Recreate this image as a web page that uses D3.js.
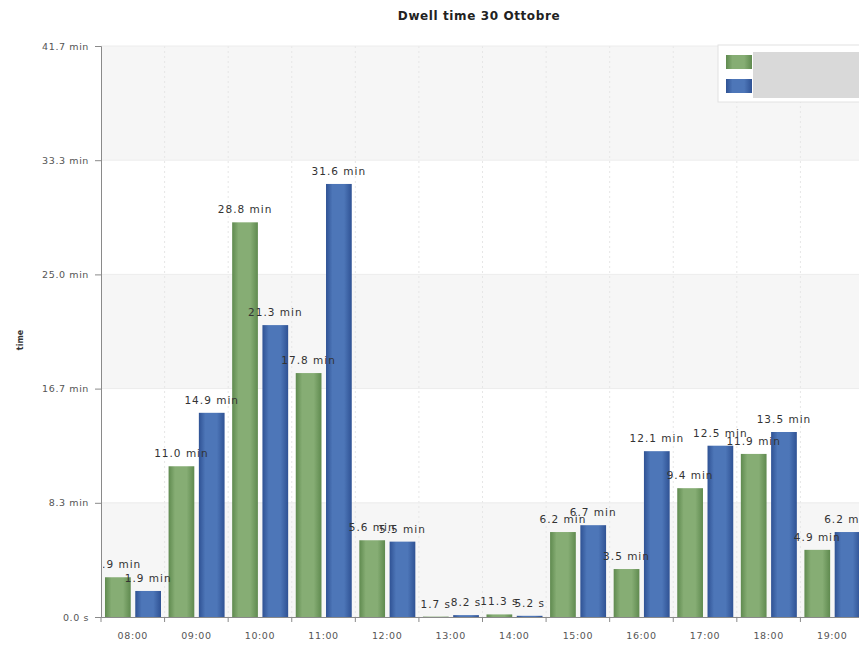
<!DOCTYPE html>
<html>
<head>
<meta charset="utf-8">
<script src="https://cdn.jsdelivr.net/npm/d3@7"></script>
<style>
  html, body { margin: 0; padding: 0; background: #fff; overflow: hidden; }
  svg { display: block; font-family: "DejaVu Sans", sans-serif; }
</style>
</head>
<body>
<svg id="chart" width="859" height="648"></svg>
<script>
// Hourly dwell time, values in seconds
const categories = ["08:00", "09:00", "10:00", "11:00", "12:00", "13:00",
                    "14:00", "15:00", "16:00", "17:00", "18:00", "19:00"];
const seriesA = [174, 660, 1728, 1068, 336, 1.7, 11.3, 372, 210, 564, 714, 294];
const seriesB = [114, 894, 1278, 1896, 330, 8.2, 5.2, 402, 726, 750, 810, 372];
const yTicks = [0, 500, 1000, 1500, 2000, 2500];
const seriesNames = ["A", "B"];
const seriesColors = [
  { mid: "#86ad74", edge: "#5f8a4f" },
  { mid: "#4d76b8", edge: "#2f5294" }
];

const svg = d3.select("#chart");
const m = { left: 101, top: 46, right: 864, bottom: 617 };

const x = d3.scaleBand().domain(categories).range([m.left, m.right]).padding(0);
const xi = d3.scaleBand().domain([0, 1]).range([4, 60]).paddingInner(0.15).paddingOuter(0);
const y = d3.scaleLinear().domain([0, 2500]).range([m.bottom, m.top]);

function fmt(v) {
  return v < 60 ? (v).toFixed(1) + " s" : (v / 60).toFixed(1) + " min";
}

// gradients for bars
const defs = svg.append("defs");
seriesColors.forEach((c, i) => {
  const g = defs.append("linearGradient").attr("id", "grad" + i)
    .attr("x1", "0").attr("x2", "1").attr("y1", "0").attr("y2", "0");
  g.append("stop").attr("offset", "0%").attr("stop-color", c.edge);
  g.append("stop").attr("offset", "25%").attr("stop-color", c.mid);
  g.append("stop").attr("offset", "70%").attr("stop-color", c.mid);
  g.append("stop").attr("offset", "100%").attr("stop-color", c.edge);
});
defs.append("clipPath").attr("id", "plotClip")
  .append("rect").attr("x", m.left + 2).attr("y", 0)
  .attr("width", m.right - m.left).attr("height", m.bottom);

// alternating horizontal bands
const bandData = d3.pairs(yTicks);
svg.append("g").selectAll("rect").data(bandData).join("rect")
  .attr("x", m.left).attr("width", m.right - m.left)
  .attr("y", d => y(d[1])).attr("height", d => y(d[0]) - y(d[1]))
  .attr("fill", (d, i) => i % 2 === 0 ? "#f6f6f6" : "#ffffff");

// faint vertical grid at category boundaries
svg.append("g").selectAll("line").data(categories.slice(1)).join("line")
  .attr("x1", d => x(d)).attr("x2", d => x(d))
  .attr("y1", m.top).attr("y2", m.bottom)
  .attr("stroke", "#e6e6e6").attr("stroke-dasharray", "2,3");

// horizontal grid
svg.append("g").selectAll("line").data(yTicks.slice(1)).join("line")
  .attr("x1", m.left).attr("x2", m.right)
  .attr("y1", d => y(d)).attr("y2", d => y(d))
  .attr("stroke", "#ececec");

// bars
const groups = svg.append("g").selectAll("g").data(categories).join("g")
  .attr("transform", d => `translate(${x(d)},0)`);
[seriesA, seriesB].forEach((vals, s) => {
  groups.append("rect")
    .attr("x", xi(s)).attr("width", xi.bandwidth())
    .attr("y", (d, i) => y(vals[i]))
    .attr("height", (d, i) => y(0) - y(vals[i]))
    .attr("fill", `url(#grad${s})`);
});

// value labels
const labels = svg.append("g").attr("clip-path", "url(#plotClip)");
[seriesA, seriesB].forEach((vals, s) => {
  labels.selectAll(".lab" + s).data(categories).join("text")
    .attr("class", "lab" + s)
    .attr("x", (d, i) => x(d) + xi(s) + xi.bandwidth() / 2)
    .attr("y", (d, i) => y(vals[i]) - 9)
    .attr("text-anchor", "middle")
    .attr("font-size", 10.5).attr("letter-spacing", 1)
    .attr("fill", "#333")
    .text((d, i) => fmt(vals[i]));
});

// y axis
const yAxis = d3.axisLeft(y).tickValues(yTicks).tickSize(6).tickPadding(6)
  .tickFormat(d => d === 0 ? "0.0 s" : (d / 60).toFixed(1) + " min");
const gy = svg.append("g").attr("transform", `translate(${m.left},0)`).call(yAxis);
gy.select(".domain").attr("stroke", "#8a8a8a");
gy.selectAll(".tick line").attr("stroke", "#8a8a8a");
gy.selectAll(".tick text").attr("font-size", 9.5).attr("fill", "#555")
  .attr("font-family", "DejaVu Sans, sans-serif").attr("letter-spacing", 0.6);

// x axis
const xAxis = d3.axisBottom(x).tickSize(0).tickPadding(15);
const gx = svg.append("g").attr("transform", `translate(0,${m.bottom})`).call(xAxis);
gx.select(".domain").attr("stroke", "#8a8a8a");
gx.selectAll(".tick text").attr("font-size", 9.5).attr("fill", "#555")
  .attr("font-family", "DejaVu Sans, sans-serif").attr("letter-spacing", 0.6);
gx.append("g").selectAll("line").data(categories).join("line")
  .attr("x1", d => x(d)).attr("x2", d => x(d))
  .attr("y1", 0).attr("y2", 5).attr("stroke", "#8a8a8a");
gx.append("line").attr("x1", m.right).attr("x2", m.right)
  .attr("y1", 0).attr("y2", 5).attr("stroke", "#8a8a8a");

// titles
svg.append("text").attr("x", 479).attr("y", 20).attr("text-anchor", "middle")
  .attr("font-size", 12).attr("font-weight", "bold").attr("letter-spacing", 0.6)
  .attr("fill", "#222").text("Dwell time 30 Ottobre");
svg.append("text").attr("transform", "translate(23,340) rotate(-90)")
  .attr("text-anchor", "middle").attr("font-size", 8).attr("font-weight", "bold")
  .attr("fill", "#333").text("time");

// legend
const lg = svg.append("g").attr("transform", "translate(718,45)");
lg.append("rect").attr("x", 0).attr("y", 0).attr("width", 160).attr("height", 57)
  .attr("fill", "#ffffff").attr("stroke", "#e2e2e2");
lg.append("rect").attr("x", 35).attr("y", 7).attr("width", 140).attr("height", 46)
  .attr("fill", "#d9d9d9");
seriesNames.forEach((n, i) => {
  lg.append("rect").attr("x", 8).attr("y", 10 + i * 24).attr("width", 26).attr("height", 14)
    .attr("fill", `url(#grad${i})`);
});
</script>
</body>
</html>
